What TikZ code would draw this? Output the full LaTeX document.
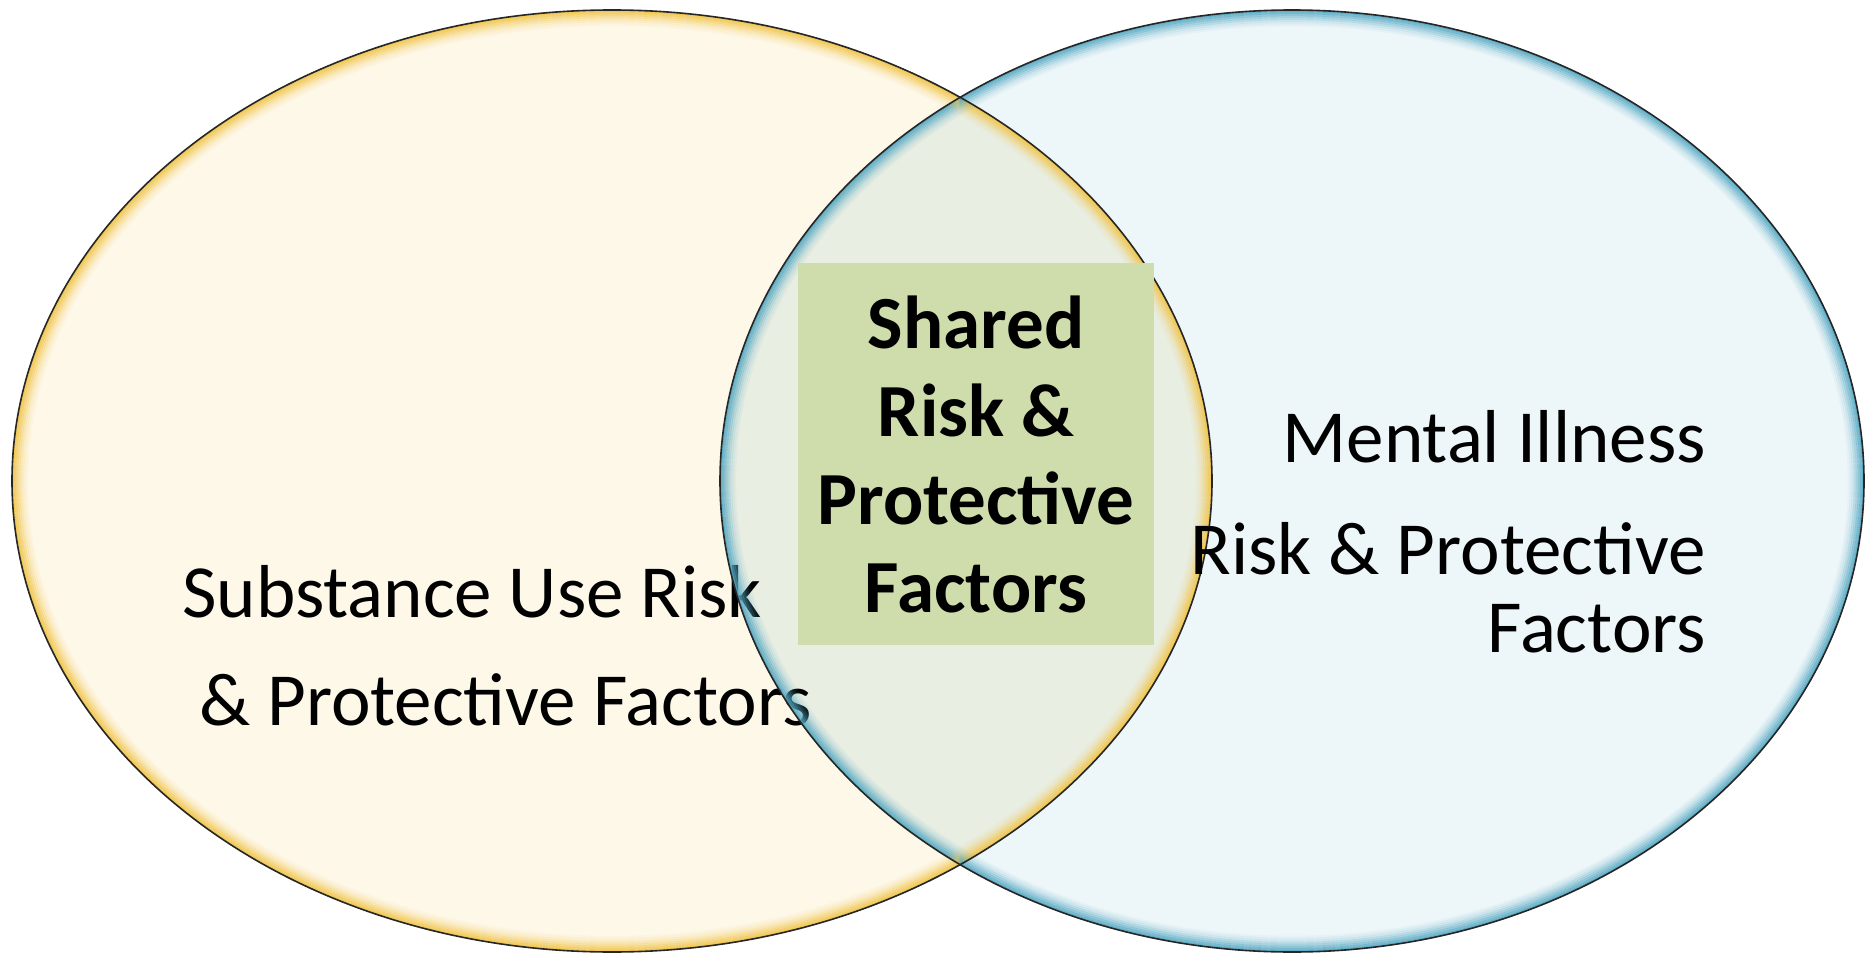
\documentclass[tikz,border=0pt]{standalone}
\usepackage{fontspec}
\setmainfont{Carlito}
\usepackage{tikz}
\usetikzlibrary{positioning}

\definecolor{sufill}{RGB}{254,248,233}
\definecolor{mifill}{RGB}{237,246,249}
\definecolor{bothfill}{RGB}{233,238,227}
\definecolor{surim}{RGB}{240,196,72}
\definecolor{mirim}{RGB}{84,168,194}
\definecolor{sharedgreen}{RGB}{207,220,172}

\begin{document}
\begin{tikzpicture}[
  x=1pt, y=-1pt,
  sidetext/.style={inner sep=0pt, font=\fontsize{75}{88}\selectfont},
  sharedbox/.style={rectangle, fill=sharedgreen, inner sep=0pt, minimum width=356pt,
    minimum height=382pt, align=center, font=\fontsize{75}{88}\selectfont\bfseries}
]
\useasboundingbox (0,0) rectangle (1866,955);

% the two circles
\fill[sufill] (612,481) ellipse (600pt and 471pt);
\fill[mifill] (1292,481) ellipse (572pt and 471pt);
\begin{scope}
  \clip (612,481) ellipse (600pt and 471pt);
  \fill[bothfill] (1292,481) ellipse (572pt and 471pt);
\end{scope}

\node[sidetext, align=left, anchor=base west] (subuse) at (182,725)
  {Substance Use Risk\\[20pt] \ \& Protective Factors};

% soft rims
\foreach \d/\op in {1/.9,3/.75,5/.6,7/.45,9/.32,11/.2,13/.12,15/.06}
{
  \draw[surim, line width=2.2pt, opacity=\op] (612,481) ellipse ({(600-\d)*1pt} and {(471-\d)*1pt});
  \draw[mirim, line width=2.2pt, opacity=\op] (1292,481) ellipse ({(572-\d)*1pt} and {(471-\d)*1pt});
}
\draw[black!85, line width=1.6pt] (612,481) ellipse (600pt and 471pt);
\draw[black!85, line width=1.6pt] (1292,481) ellipse (572pt and 471pt);

\node[sharedbox] (shared) at (976,454) {Shared\\Risk \&\\Protective\\Factors};

\node[sidetext, align=right, anchor=base east] (mental) at (1706,652)
  {Mental Illness\\[24pt] Risk \& Protective\\[-10pt] Factors};

\end{tikzpicture}
\end{document}
